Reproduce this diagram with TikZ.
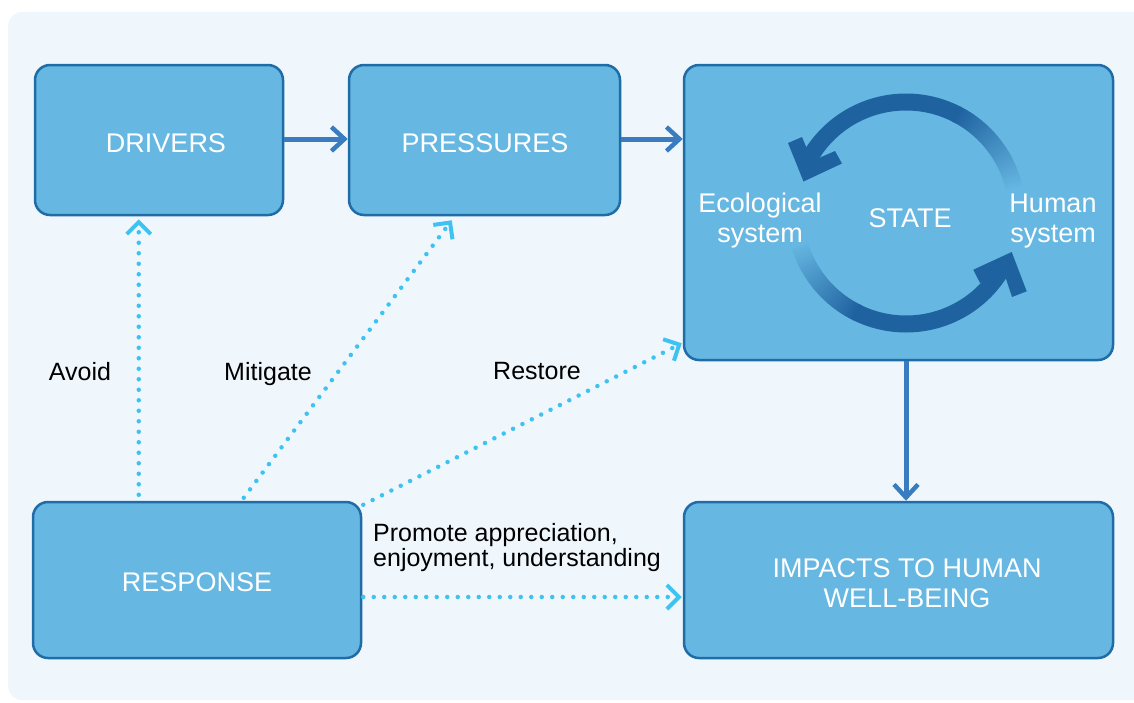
\documentclass[tikz,border=0pt]{standalone}
\usepackage{fontspec}
\setmainfont{Liberation Sans}
\usetikzlibrary{arrows.meta,calc}
\definecolor{panel}{HTML}{EFF7FD}
\definecolor{boxfill}{HTML}{66B7E2}
\definecolor{boxline}{HTML}{1F6CA6}
\definecolor{solidarrow}{HTML}{3A7CC0}
\definecolor{dotarrow}{HTML}{3EC3F1}
\definecolor{arcdark}{HTML}{1F62A0}
\tikzset{
  boxstyle/.style={draw=boxline, line width=2.5pt, fill=boxfill, rounded corners=15pt, inner sep=0pt},
  boxtext/.style={text=white, font=\fontsize{27}{30}\selectfont, align=center, inner sep=0pt, anchor=base},
  lbl/.style={text=black, font=\fontsize{25}{25}\selectfont, align=left, inner sep=0pt, anchor=base},
  solidarr/.style={draw=solidarrow, line width=5pt, -{Straight Barb[length=13pt, width=24pt, line width=4.5pt]}},
  dotarr/.style={draw=dotarrow, line width=4.5pt, line cap=round, dash pattern=on 0pt off 10.5pt,
     -{Straight Barb[length=12pt, width=24pt, line width=4pt]}},
  arcseg/.style={line width=17pt},
}
\begin{document}
\begin{tikzpicture}[x=1pt,y=-1pt]
\useasboundingbox (0,0) rectangle (1134,702);
\fill[panel, rounded corners=14pt] (8,12) rectangle (1170,700);

% boxes
\node[boxstyle, minimum width=248pt, minimum height=150pt] (drivers) at (159,140) {};
\node[boxstyle, minimum width=271pt, minimum height=150pt] (pressures) at (484.5,140) {};
\node[boxstyle, minimum width=429pt, minimum height=295pt] (state) at (898.5,212.5) {};
\node[boxstyle, minimum width=328pt, minimum height=156pt] (response) at (197,580) {};
\node[boxstyle, minimum width=429pt, minimum height=156pt] (impacts) at (898.5,580) {};

% cycle arrows inside STATE
\foreach \a in {12,...,62}{
  \pgfmathsetmacro{\t}{min(100,(\a-12)/50*100)}
  \draw[arcseg, arcdark!\t!boxfill] ({906+111*cos(\a)},{213-111*sin(\a)}) -- ({906+111*cos(\a+1.4)},{213-111*sin(\a+1.4)});
}
\draw[arcseg, arcdark] plot[domain=62:151, samples=70] ({906+111*cos(\x)},{213-111*sin(\x)});
\fill[arcdark] (803.5,181.5) -- (788,143) -- (802,137) -- (812,161) -- (835,151) -- (842,163.5) -- cycle;
\foreach \a in {196,...,243}{
  \pgfmathsetmacro{\t}{min(100,(\a-196)/47*100)}
  \draw[arcseg, arcdark!\t!boxfill] ({906+111*cos(\a)},{213-111*sin(\a)}) -- ({906+111*cos(\a+1.4)},{213-111*sin(\a+1.4)});
}
\draw[arcseg, arcdark] plot[domain=243:331, samples=70] ({906+111*cos(\x)},{213-111*sin(\x)});
\fill[arcdark] (1011.7,252) -- (1026.7,291.3) -- (1012,297) -- (1004,273) -- (980,283) -- (973.3,269.7) -- cycle;

% box texts
\node[boxtext] (tdrivers) at (166,152) {DRIVERS};
\node[boxtext] (tpressures) at (485,152) {PRESSURES};
\node[boxtext] (tresponse) at (197,591) {RESPONSE};
\node[boxtext] (timpacts1) at (907,577) {IMPACTS TO HUMAN};
\node[boxtext] (timpacts2) at (907,607) {WELL-BEING};
\node[boxtext] (tstate) at (910,227) {STATE};
\node[boxtext] (teco1) at (760,212) {Ecological};
\node[boxtext] (teco2) at (760,242) {system};
\node[boxtext] (thum1) at (1053,212) {Human};
\node[boxtext] (thum2) at (1053,242) {system};

% solid connectors
\draw[solidarr] ([yshift=1pt]drivers.east) -- ([yshift=1pt]pressures.west);
\draw[solidarr] ([yshift=1pt]pressures.east) -- ([yshift=1pt]pressures.east -| state.west);
\draw[solidarr] ([xshift=7.5pt]state.south) -- ([xshift=7.5pt]impacts.north);

% dotted connectors
\draw[dotarr] ($(response.north west)+(107,-6)$) -- ($(drivers.south west)+(105,3)$);
\draw[dotarr] ($(response.north west)+(212,-3)$) -- ($(pressures.south west)+(104,4)$);
\draw[dotarr] ($(response.north east)+(1,4)$) -- ($(state.south west)+(-1,-18)$);
\draw[dotarr] ($(response.east)+(1,17)$) -- ($(impacts.west)+(-1,17)$);

% labels
\node[lbl] (lavoid) at (80,380) {Avoid};
\node[lbl] (lmitigate) at (268,380) {Mitigate};
\node[lbl] (lrestore) at (537,379) {Restore};
\node[lbl, anchor=base west] (lpromote) at (373,566) {Promote appreciation,\\enjoyment, understanding};
\end{tikzpicture}
\end{document}
